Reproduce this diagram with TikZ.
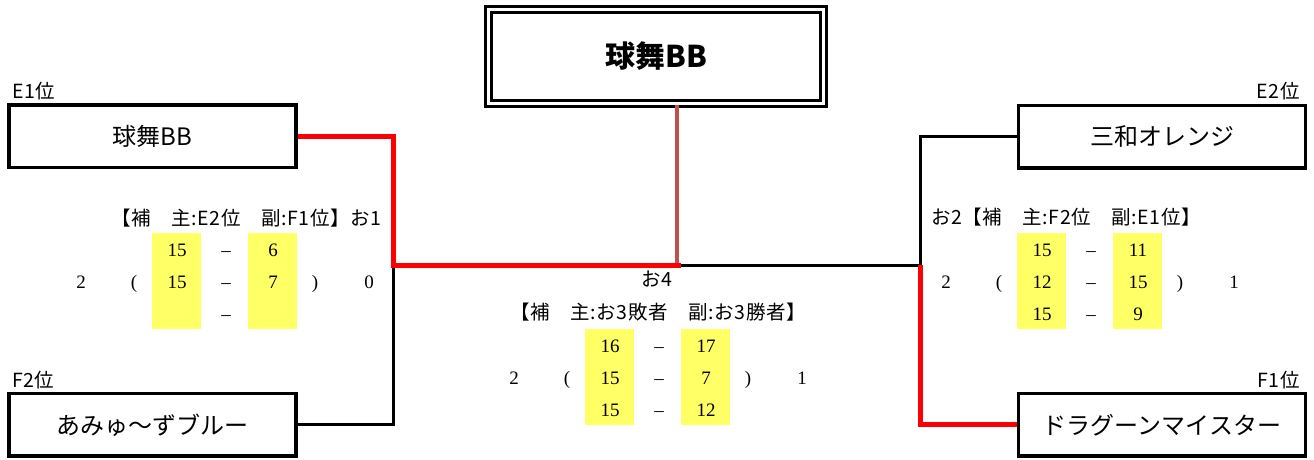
\documentclass[tikz,border=0pt]{standalone}
\usepackage{fontspec}
\setmainfont{Liberation Serif}
\newfontfamily\jp{Noto Sans CJK JP}
\newfontfamily\jpwide[LetterSpace=3]{Noto Sans CJK JP}
\usetikzlibrary{calc}
\definecolor{cellyellow}{RGB}{255,255,102}
\definecolor{brick}{RGB}{192,80,77}
\tikzset{>=latex}
\tikzstyle{team}  =[draw,line width=3.5pt,minimum width=287pt,minimum height=62.5pt,
                    inner sep=0pt,font=\jp\fontsize{24}{24}\selectfont]
\tikzstyle{champ} =[draw,double,line width=3pt,double distance=3pt,
                    minimum width=335pt,minimum height=94pt,
                    font=\jp\bfseries\fontsize{30}{30}\selectfont]
\tikzstyle{seed}  =[inner sep=0pt,font=\jpwide\fontsize{19.5}{19.5}\selectfont]
\tikzstyle{hdr}   =[inner sep=0pt,font=\jpwide\fontsize{19.5}{19.5}\selectfont]
\tikzstyle{num}   =[inner sep=0pt,text height=12.5pt,text depth=0pt,
                    font=\fontsize{19}{19}\selectfont]
\tikzstyle{cell}  =[fill=cellyellow,draw=none]
\tikzstyle{lose}  =[line width=3pt,black]
\tikzstyle{win}   =[line width=5pt,red]
\tikzstyle{final} =[line width=4pt,brick]
\newcommand\scoreblock[6]{{
  % #1 name, #2 x of first column, #3 y of first row
  % #4 sets won, #5 sets lost, #6 points per set
  \fill[cell] ({#2-25},{#3-17}) rectangle ({#2+24},{#3+79});
  \fill[cell] ({#2+71},{#3-17}) rectangle ({#2+120},{#3+79});
  \node[num] (#1w) at ({#2-96},{#3+32})  {#4};
  \node[num] (#1o) at ({#2-43},{#3+32})  {(};
  \node[num] (#1c) at ({#2+138},{#3+32}) {)};
  \node[num] (#1l) at ({#2+192},{#3+32}) {#5};
  \foreach \a/\b [count=\r] in {#6} {
    \node[num] (#1a\r) at ({#2},{#3+(\r-1)*32})    {\a};
    \node[num] (#1d\r) at ({#2+49},{#3+(\r-1)*32}) {--};
    \node[num] (#1b\r) at ({#2+96},{#3+(\r-1)*32}) {\b};
  }
}}

\begin{document}
\begin{tikzpicture}[x=1pt,y=-1pt]
  \useasboundingbox (0,0) rectangle (1314,459);

  % Teams
  \node[champ] (top) at (656,56.5)    {球舞BB};
  \node[team]  (e1)  at (152.5,136)   {球舞BB};
  \node[team]  (f2)  at (152.5,424.75){あみゅ～ずブルー};
  \node[team]  (e2)  at (1162,136.5)  {三和オレンジ};
  \node[team]  (f1)  at (1162,424.75) {ドラグーンマイスター};

  % Seeds
  \node[seed,anchor=west] (e1s) at (12,91)   {E1位};
  \node[seed,anchor=west] (f2s) at (12,380)  {F2位};
  \node[seed,anchor=east] (e2s) at (1300,91) {E2位};
  \node[seed,anchor=east] (f1s) at (1300,380){F1位};

  % Match headers
  \node[hdr] (h1) at (246.5,218) {【補　主:E2位　副:F1位】お1};
  \node[hdr] (h2) at (1066,217.5){お2【補　主:F2位　副:E1位】};
  \node[hdr] (m4) at (657,279)   {お4};
  \node[hdr] (h4) at (658,312.5) {【補　主:お3敗者　副:お3勝者】};

  % Scores
  \scoreblock{s1}{177}{250}{2}{0}{15/6,15/7,/}
  \scoreblock{s2}{1042}{250}{2}{1}{15/11,12/15,15/9}
  \scoreblock{s4}{610}{346}{2}{1}{16/17,15/7,15/12}

  % Bracket
  \coordinate (j1)   at (393,265);
  \coordinate (j2)   at (920,265);
  \coordinate (fin)  at (677,265);
  \coordinate (finR) at (681,265);
  \draw[lose] (f2.east) -| (j1);
  \draw[lose] (e2.west) -| (j2);
  \draw[lose] (fin) -- (j2);
  \draw[final] (top.south -| fin) -- (fin);
  \draw[win] (e1.east) -| (j1) -- (finR);
  \draw[win] (f1.west) -| (j2);
\end{tikzpicture}
\end{document}
